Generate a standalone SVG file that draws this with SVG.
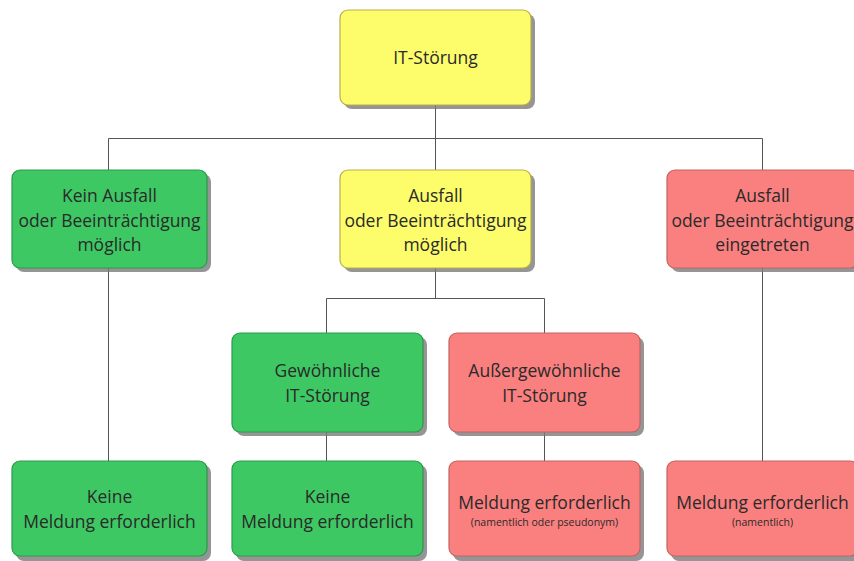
<svg xmlns="http://www.w3.org/2000/svg" width="854" height="561" viewBox="0 0 854 561">
<defs>
<style>
.box{stroke-width:1.2}
.sh{fill:#7a7a7a;opacity:0.8}
.y{fill:#fdfd6c;stroke:#b9ad4a}
.g{fill:#3ec864;stroke:#2c9a4a}
.r{fill:#fa8080;stroke:#c46262}
text{font-family:"Open Sans","Noto Sans",sans-serif;font-size:17.5px;fill:#2a2a2a;text-anchor:middle}
.s{font-size:10.5px}
.c{stroke:#555;stroke-width:1;fill:none}
</style>
</defs>
<rect width="854" height="561" fill="#ffffff"/>
<g id="connectors">
<path class="c" d="M435.5 105V138.5M108.5 138.5H762.5M108.5 138.5V170M435.5 138.5V170M762.5 138.5V170"/>
<path class="c" d="M435.5 268V298.5M326.5 298.5H544.5M326.5 298.5V333M544.5 298.5V333"/>
<path class="c" d="M108.5 268V461M762.5 268V461M326.5 432V461M544.5 432V461"/>
</g>
<g id="n-top">
<rect class="sh" x="344" y="14" width="191" height="95" rx="8"/>
<rect class="box y" x="340" y="10" width="191" height="95" rx="8"/>
<text x="435.5" y="64">IT-Störung</text>
</g>
<g id="n-kein">
<rect class="sh" x="16" y="174" width="195" height="98" rx="8"/>
<rect class="box g" x="12" y="170" width="195" height="98" rx="8"/>
<text x="109.5" y="202">Kein Ausfall</text>
<text x="109.5" y="227">oder Beeinträchtigung</text>
<text x="109.5" y="251">möglich</text>
</g>
<g id="n-moeglich">
<rect class="sh" x="344" y="174" width="191" height="98" rx="8"/>
<rect class="box y" x="340" y="170" width="191" height="98" rx="8"/>
<text x="435.5" y="202">Ausfall</text>
<text x="435.5" y="227">oder Beeinträchtigung</text>
<text x="435.5" y="251">möglich</text>
</g>
<g id="n-eingetreten">
<rect class="sh" x="671" y="174" width="191" height="98" rx="8"/>
<rect class="box r" x="667" y="170" width="191" height="98" rx="8"/>
<text x="762.5" y="202">Ausfall</text>
<text x="762.5" y="227">oder Beeinträchtigung</text>
<text x="762.5" y="251">eingetreten</text>
</g>
<g id="n-gewoehnlich">
<rect class="sh" x="236" y="337" width="191" height="99" rx="8"/>
<rect class="box g" x="232" y="333" width="191" height="99" rx="8"/>
<text x="327.5" y="377">Gewöhnliche</text>
<text x="327.5" y="402">IT-Störung</text>
</g>
<g id="n-aussergewoehnlich">
<rect class="sh" x="453" y="337" width="191" height="99" rx="8"/>
<rect class="box r" x="449" y="333" width="191" height="99" rx="8"/>
<text x="544.5" y="377">Außergewöhnliche</text>
<text x="544.5" y="402">IT-Störung</text>
</g>
<g id="n-keine1">
<rect class="sh" x="16" y="465" width="195" height="96" rx="8"/>
<rect class="box g" x="12" y="461" width="195" height="95" rx="8"/>
<text x="109.5" y="503">Keine</text>
<text x="109.5" y="528">Meldung erforderlich</text>
</g>
<g id="n-keine2">
<rect class="sh" x="236" y="465" width="191" height="96" rx="8"/>
<rect class="box g" x="232" y="461" width="191" height="95" rx="8"/>
<text x="327.5" y="503">Keine</text>
<text x="327.5" y="528">Meldung erforderlich</text>
</g>
<g id="n-meldung1">
<rect class="sh" x="453" y="465" width="191" height="96" rx="8"/>
<rect class="box r" x="449" y="461" width="191" height="95" rx="8"/>
<text x="544.5" y="509">Meldung erforderlich</text>
<text class="s" x="544.5" y="526">(namentlich oder pseudonym)</text>
</g>
<g id="n-meldung2">
<rect class="sh" x="671" y="465" width="191" height="96" rx="8"/>
<rect class="box r" x="667" y="461" width="191" height="95" rx="8"/>
<text x="762.5" y="509">Meldung erforderlich</text>
<text class="s" x="762.5" y="526">(namentlich)</text>
</g>
</svg>
